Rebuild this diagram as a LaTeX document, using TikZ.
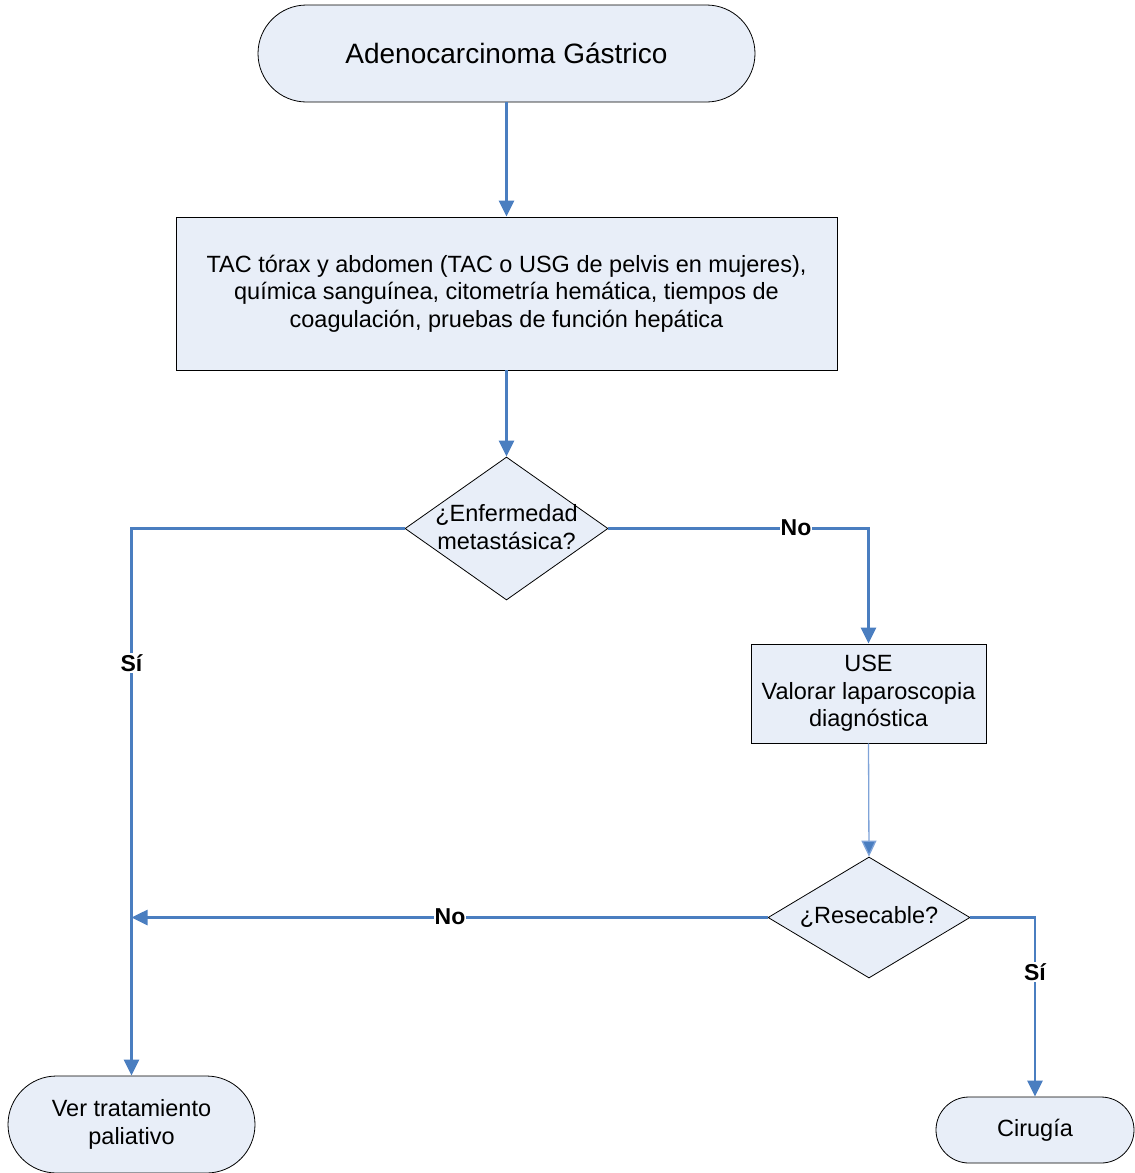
\documentclass[tikz,border=0pt]{standalone}
\usepackage{fontspec}
\setmainfont{Liberation Sans}
\usetikzlibrary{arrows.meta,shapes.misc,shapes.geometric}
\definecolor{boxfill}{HTML}{E8EEF8}
\definecolor{linkblue}{HTML}{4A7EC0}
\definecolor{thinblue}{HTML}{7FA3D8}
\tikzset{
  term/.style={rounded rectangle, draw=black, line width=0.8pt, fill=boxfill, inner sep=0pt, align=center,
    font=\fontsize{23.5}{27.5}\selectfont},
  procbox/.style={rectangle, draw=black, line width=0.8pt, fill=boxfill, inner sep=0pt, align=center,
    font=\fontsize{23.5}{27.5}\selectfont},
  dia/.style={diamond, draw=black, line width=0.8pt, fill=boxfill, inner sep=0pt},
  txt/.style={align=center, inner sep=0pt, font=\fontsize{23.5}{28}\selectfont},
  lbl/.style={fill=white, inner sep=1pt, font=\bfseries\fontsize{23}{25}\selectfont},
  arr/.style={draw=linkblue, line width=2.6pt, -{Triangle[width=15pt,length=16pt]}},
  thinarr/.style={draw=thinblue, line width=1.3pt, -{Triangle[width=15pt,length=16pt,fill=linkblue]}},
  plain/.style={draw=linkblue, line width=2.6pt}
}
\begin{document}
\begin{tikzpicture}[x=1pt,y=-1pt]
\useasboundingbox (0,0) rectangle (1135,1173);
\node[term, minimum width=497pt, minimum height=97pt, font=\fontsize{28}{32}\selectfont] (start) at (506.5,53.5) {Adenocarcinoma Gástrico};
\node[procbox, minimum width=661pt, minimum height=153pt] (tac) at (506.5,293.5)
  {TAC tórax y abdomen (TAC o USG de pelvis en mujeres),\\química sanguínea, citometría hemática, tiempos de\\coagulación, pruebas de función hepática};
\node[dia, minimum width=203pt, minimum height=143pt] (d1) at (506.5,528.5) {};
\node[txt] (d1t) at (506.5,527.5) {¿Enfermedad\\metastásica?};
\node[procbox, minimum width=235pt, minimum height=99pt] (use) at (868.5,693.5) {USE\\Valorar laparoscopia\\diagnóstica};
\node[dia, minimum width=202pt, minimum height=121pt] (d2) at (869,917.5) {};
\node[txt] (d2t) at (869,917) {¿Resecable?};
\node[term, minimum width=247pt, minimum height=97pt] (pal) at (131.5,1124.5) {Ver tratamiento\\paliativo};
\node[term, minimum width=198pt, minimum height=66pt] (cir) at (1035,1130) {Cirugía};
\coordinate (j) at (131.5,917.5);
\draw[arr] (start.south) -- (tac.north);
\draw[arr] (tac.south) -- (d1.north);
\draw[arr] (d1.west) -| (pal.north);
\draw[arr] (d1.east) -| (use.north);
\draw[thinarr] (use.south) -- (d2.north);
\draw[arr] (d2.west) -- (j);
\draw[arr] (d2.east) -| (cir.north);
\node[lbl] (si1) at (131.5,663) {Sí};
\node[lbl] (no1) at (796,528) {No};
\node[lbl] (no2) at (450,917) {No};
\node[lbl] (si2) at (1035,972) {Sí};
\end{tikzpicture}
\end{document}
